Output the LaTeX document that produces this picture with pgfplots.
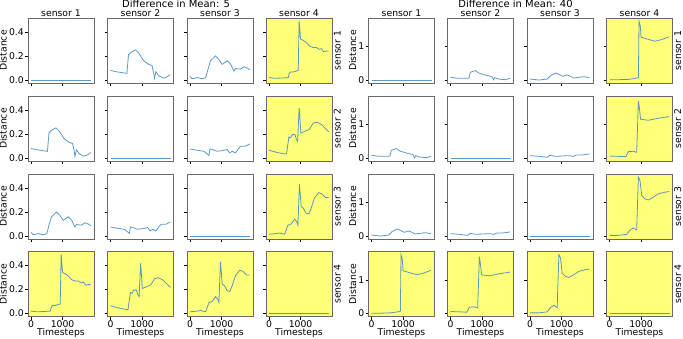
\documentclass[border=0pt]{standalone}
\usepackage{fontspec}
\setmainfont{DejaVu Sans}
\usepackage{pgfplots}
\usepackage{pgfplotstable}
\pgfplotsset{compat=1.18}
\usetikzlibrary{calc}

\definecolor{ln}{RGB}{60,135,200}
\definecolor{ylw}{RGB}{255,255,122}
\definecolor{frm}{RGB}{105,105,105}
\newcommand\lbl{\fontsize{9.3}{11}\selectfont}

% difference in mean 5
\pgfplotstableread{
x y
0 0.08
150 0.07
520 0.055
570 0.21
650 0.23
790 0.25
890 0.225
1050 0.16
1210 0.13
1315 0.12
1370 0.055
1390 0.014
1440 0.07
1525 0.035
1680 0.015
1785 0.025
1890 0.045
}\tLab
\pgfplotstableread{
x y
0 0.03
70 0.01
230 0.02
390 0.01
500 0.02
570 0.09
650 0.16
810 0.20
915 0.17
1020 0.13
1180 0.16
1290 0.13
1390 0.075
1445 0.095
1600 0.09
1705 0.11
1810 0.10
1895 0.085
}\tLac
\pgfplotstableread{
x y
0 0.02
190 0.014
450 0.017
610 0.02
640 0.05
680 0.067
770 0.067
870 0.075
925 0.08
955 0.49
1000 0.34
1080 0.33
1190 0.31
1290 0.28
1400 0.27
1500 0.27
1585 0.255
1660 0.26
1730 0.235
1815 0.24
1890 0.24
}\tLad
\pgfplotstableread{
x y
0 0.075
230 0.064
440 0.056
545 0.033
600 0.022
630 0.075
705 0.07
860 0.056
1020 0.061
1175 0.07
1260 0.042
1335 0.056
1440 0.042
1515 0.07
1600 0.097
1755 0.097
1895 0.117
}\tLbc
\pgfplotstableread{
x y
0 0.064
240 0.047
505 0.033
555 0.033
630 0.175
680 0.167
735 0.194
820 0.194
870 0.153
905 0.139
955 0.417
1010 0.208
1135 0.222
1270 0.236
1400 0.29
1520 0.297
1660 0.278
1795 0.242
1900 0.217
}\tLbd
\pgfplotstableread{
x y
0 0.014
230 0.02
335 0.025
495 0.014
600 0.09
705 0.10
810 0.14
880 0.118
915 0.09
965 0.43
1020 0.245
1090 0.23
1175 0.19
1260 0.183
1335 0.23
1440 0.315
1575 0.36
1680 0.35
1785 0.32
1890 0.32
}\tLcd
% difference in mean 40
\pgfplotstableread{
x y
0 0.08
260 0.05
580 0.05
630 0.23
790 0.28
890 0.21
1100 0.15
1310 0.10
1365 0.01
1400 0.07
1520 0.03
1730 0.01
1890 0.05
}\tRab
\pgfplotstableread{
x y
0 0.03
285 0.0
545 0.03
650 0.13
810 0.21
915 0.17
1040 0.11
1175 0.15
1280 0.11
1385 0.06
1545 0.08
1700 0.10
1880 0.07
}\tRac
\pgfplotstableread{
x y
0 0.01
285 0.01
600 0.02
830 0.05
915 0.07
935 1.74
975 1.61
1000 1.27
1175 1.22
1440 1.15
1650 1.2
1880 1.28
}\tRad
\pgfplotstableread{
x y
0 0.07
285 0.05
545 0.02
620 0.08
810 0.05
1020 0.06
1230 0.07
1385 0.05
1460 0.09
1650 0.09
1880 0.12
}\tRbc
\pgfplotstableread{
x y
0 0.06
285 0.05
515 0.04
600 0.19
755 0.2
860 0.17
915 1.69
945 1.49
985 1.15
1230 1.12
1545 1.18
1890 1.23
}\tRbd
\pgfplotstableread{
x y
0 0.02
285 0.02
545 0.05
650 0.18
755 0.24
860 0.18
915 1.75
965 1.65
1020 1.2
1125 1.1
1230 1.07
1385 1.15
1545 1.25
1755 1.3
1890 1.32
}\tRcd
\pgfplotstableread{
x y
0 0
1900 0
}\tZero

\pgfplotsset{
  panel/.style={anchor=south west, width=66bp, height=65bp, scale only axis,
    xmin=-95, xmax=1995, xtick={0,1000}, xticklabels={},
    axis line style={frm, line width=0.9bp},
    tick style={black, line width=0.6bp}, major tick length=3bp, tick align=outside,
    tick pos=left,
    ticklabel style={font=\lbl}, label style={font=\lbl},
    xticklabel style={inner sep=0.5bp}, yticklabel style={inner sep=1bp},
    ylabel style={inner sep=1bp}, xlabel style={inner sep=0.5bp}},
  gA/.style={ymin=-0.025, ymax=0.515, ytick={0,0.2,0.4}, yticklabels={}},
  gB/.style={ymin=-0.088, ymax=1.84, ytick={0,1}, yticklabels={}},
  yel/.style={axis background/.style={fill=ylw}},
  firstA/.style={yticklabels={0.0,0.2,0.4}, ylabel={Distance}},
  firstB/.style={yticklabels={0,1}, ylabel={Distance}},
  bottom/.style={xticklabels={0,1000}, xlabel={Timesteps}},
  coltitle/.style={after end axis/.append code={\node[anchor=south, inner sep=0pt, font=\lbl] at ($(rel axis cs:0.5,1)+(0,1bp)$) {#1};}},
  rowlab/.style={after end axis/.append code={\node[rotate=90, anchor=north, inner sep=0pt, font=\lbl] at (rel axis cs:1.025,0.5) {#1};}},
  dline/.style={ln, line width=0.8bp, opacity=0.85},
}

\newcommand\panel[4]{\begin{axis}[panel, at={(#1bp,#2bp)}, #3]
\addplot[dline] table {#4};
\end{axis}}

\begin{document}
\begin{tikzpicture}
\path[use as bounding box] (0bp,0bp) rectangle (683bp,339bp);
\node[anchor=north, inner sep=0pt, font=\fontsize{10}{12}\selectfont] at (176bp,339bp) {Difference in Mean: 5};
\node[anchor=north, inner sep=0pt, font=\fontsize{10}{12}\selectfont] at (515.5bp,339bp) {Difference in Mean: 40};

% left group
\panel{28}{256}{gA, firstA, coltitle={sensor 1}}{\tZero}
\panel{107.5}{256}{gA, coltitle={sensor 2}}{\tLab}
\panel{187}{256}{gA, coltitle={sensor 3}}{\tLac}
\panel{266}{256}{gA, yel, coltitle={sensor 4}, rowlab={sensor 1}}{\tLad}

\panel{28}{178}{gA, firstA}{\tLab}
\panel{107.5}{178}{gA}{\tZero}
\panel{187}{178}{gA}{\tLbc}
\panel{266}{178}{gA, yel, rowlab={sensor 2}}{\tLbd}

\panel{28}{100}{gA, firstA}{\tLac}
\panel{107.5}{100}{gA}{\tLbc}
\panel{187}{100}{gA}{\tZero}
\panel{266}{100}{gA, yel, rowlab={sensor 3}}{\tLcd}

\panel{28}{22.5}{gA, firstA, yel, bottom}{\tLad}
\panel{107.5}{22.5}{gA, yel, bottom}{\tLbd}
\panel{187}{22.5}{gA, yel, bottom}{\tLcd}
\panel{266}{22.5}{gA, yel, bottom, rowlab={sensor 4}}{\tZero}

% right group
\panel{368.5}{256}{gB, firstB, coltitle={sensor 1}}{\tZero}
\panel{447.5}{256}{gB, coltitle={sensor 2}}{\tRab}
\panel{527}{256}{gB, coltitle={sensor 3}}{\tRac}
\panel{606.5}{256}{gB, yel, coltitle={sensor 4}, rowlab={sensor 1}}{\tRad}

\panel{368.5}{178}{gB, firstB}{\tRab}
\panel{447.5}{178}{gB}{\tZero}
\panel{527}{178}{gB}{\tRbc}
\panel{606.5}{178}{gB, yel, rowlab={sensor 2}}{\tRbd}

\panel{368.5}{100}{gB, firstB}{\tRac}
\panel{447.5}{100}{gB}{\tRbc}
\panel{527}{100}{gB}{\tZero}
\panel{606.5}{100}{gB, yel, rowlab={sensor 3}}{\tRcd}

\panel{368.5}{22.5}{gB, firstB, yel, bottom}{\tRad}
\panel{447.5}{22.5}{gB, yel, bottom}{\tRbd}
\panel{527}{22.5}{gB, yel, bottom}{\tRcd}
\panel{606.5}{22.5}{gB, yel, bottom, rowlab={sensor 4}}{\tZero}
\end{tikzpicture}
\end{document}
